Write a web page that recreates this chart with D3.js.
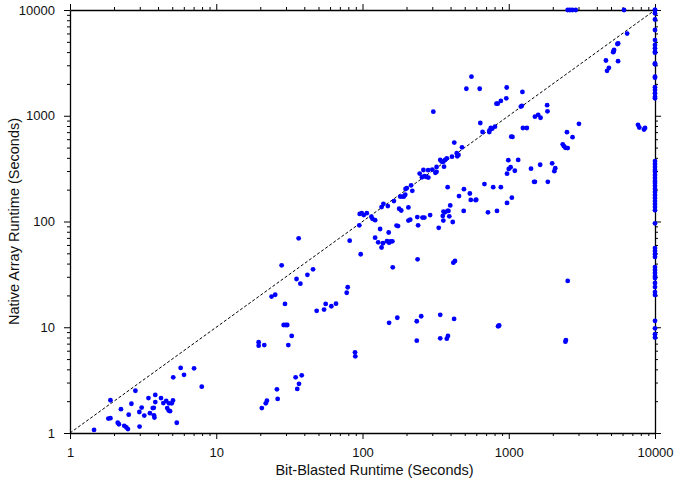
<!DOCTYPE html>
<html lang="en">
<head>
<meta charset="UTF-8">
<title>Bit-blasted vs native array runtime</title>
<style>
  body { margin: 0; background: #fff; }
  svg { display: block; font-family: "Liberation Sans", Arial, sans-serif; }
</style>
</head>
<body>
<svg id="chart"></svg>
<script src="https://d3js.org/d3.v7.min.js"></script>
<script>
// runtimes in seconds, one entry per benchmark (x = bit-blasted, y = native array)
const bitBlasted = [
  1.46, 1.89, 1.83, 1.89, 2.23, 2.12, 2.16, 2.35, 2.43, 2.49, 2.63, 2.52, 2.80, 2.99, 2.98, 3.09, 3.22, 3.44, 3.52, 3.68,
  3.74, 3.75, 3.78, 3.83, 3.83, 4.19, 4.35, 4.55, 4.62, 4.73, 4.83, 4.75, 4.96, 5.06, 5.37, 5.08, 5.71, 6.02, 7.05, 7.96,
  20.5, 21.8, 22.2, 26.0, 26.3, 34.9, 38.4, 36.8, 35.8,
  28.0, 35.4, 37.6, 42.0, 45.9, 23.9, 25.3, 29.5, 28.9, 29.9, 30.6, 32.8, 31.1, 19.5, 19.5, 21.3, 48.6, 54.6, 56.0, 61.2,
  65.9, 78.0, 79.2, 88.9, 89.3, 36.6,
  97.2, 161, 238, 418, 429, 152, 173, 235, 252, 340, 423, 235, 340, 377, 384, 853, 845, 860, 2530, 2440, 2460,
  81.7, 95.1, 95.7, 98.8, 102, 107, 115, 117, 122, 122, 128, 132, 135, 138, 147, 152, 155, 160, 151, 135,
  139, 149, 164, 171, 175, 178, 184, 181, 187, 192, 196, 197, 201, 206, 206, 212, 215, 219, 237, 240,
  246, 255, 265, 257, 265, 272, 281, 282, 290, 300, 315, 321, 321, 332, 340, 347, 357, 367, 377, 361,
  358, 366, 354, 357, 382, 387, 392, 398, 414, 382, 457, 409, 424, 441, 453, 445, 479, 494, 492, 542,
  550, 594, 599, 305, 261,
  556, 513, 633, 968, 1240, 962, 824, 840, 883, 1210, 1230, 1830, 1840, 1510, 1590, 1650, 3020, 2500, 2730, 2340,
  2380, 2440, 2530, 639, 662, 739, 754, 771, 805, 736, 1250, 1330, 1040, 1060, 993, 1160, 1030, 1000, 1100, 973,
  1420, 1640, 1980, 2080, 2050, 1490, 1510, 1850, 682, 783, 883, 1050, 973, 721, 831,
  2530, 2620, 2720, 2870, 6140, 10000, 6450, 5530, 5600, 5250, 5180, 5200, 4620, 5590, 4840, 4700, 7650, 7810, 8410, 8550
];
const nativeArray = [
  1.07, 2.04, 1.37, 1.38, 1.68, 1.25, 1.21, 1.17, 1.13, 1.09, 1.89, 1.49, 2.51, 1.15, 1.58, 1.74, 1.46, 2.14, 1.54, 1.72,
  1.73, 1.47, 1.40, 2.29, 1.96, 2.14, 1.92, 2.01, 1.72, 1.63, 1.61, 1.91, 1.91, 2.03, 1.25, 3.36, 4.12, 3.55, 4.09, 2.74,
  1.72, 1.91, 2.02, 2.59, 2.10, 3.36, 3.51, 2.92, 2.61,
  38.5, 28.6, 25.8, 31.3, 35.3, 19.5, 20.3, 16.6, 10.5, 10.5, 10.5, 8.27, 6.79, 7.21, 6.69, 6.79, 14.3, 14.7, 16.6, 15.8,
  16.7, 21.2, 23.9, 5.79, 5.31, 69.3,
  49.0, 36.9, 43.9, 40.8, 42.3, 11.0, 12.3, 11.4, 12.7, 13.1, 12.0, 7.46, 7.86, 7.80, 8.27, 10.3, 10.2, 10.4, 27.4, 7.30, 7.57,
  65.8, 92.0, 118, 120, 115, 120, 111, 106, 103, 70.3, 63.6, 84.9, 56.8, 62.3, 65.1, 63.0, 64.7, 65.0, 78.7, 137,
  147, 140, 156, 91.6, 90.6, 132, 127, 172, 172, 172, 179, 203, 207, 136, 102, 104, 220, 195, 110, 92.0,
  284, 262, 269, 109, 109, 265, 306, 260, 115, 310, 289, 295, 328, 87.2, 382, 369, 368, 382, 396, 330,
  124, 122, 113, 102, 126, 126, 112, 142, 98.9, 211, 174, 410, 558, 442, 426, 414, 503, 202, 126, 184,
  160, 159, 161, 1092, 307,
  2340, 1800, 1800, 1850, 1680, 1460, 1300, 1300, 1380, 1220, 1240, 1260, 1100, 980, 1020, 957, 839, 699, 627, 537,
  517, 498, 495, 854, 702, 728, 766, 754, 788, 702, 766, 766, 634, 630, 380, 382, 326, 314, 302, 283,
  316, 344, 355, 319, 299, 237, 237, 237, 226, 211, 211, 168, 150, 122, 126,
  10000, 10000, 10000, 10000, 10000, 10000, 5990, 4770, 4820, 4190, 3990, 4050, 3330, 3280, 2840, 2660, 821, 774, 741, 766
];
// native array runtimes for benchmarks where bit-blasting hit the 10000 s limit
const timeoutNative = [
  10000, 9310, 8130, 6470, 5200, 4670, 4340, 4030, 3950, 3130, 3070, 2340, 2290, 1860, 1750, 1630, 1510, 1460,
  373, 350, 328, 307, 294, 275, 258, 242, 231, 217, 203, 190, 178, 167, 156, 146, 137, 128, 96.1,
  56.1, 52.6, 49.3, 46.2, 37.1, 34.8, 32.6, 30.5, 29.2, 26.2, 24.0, 21.5, 20.2, 11.5, 9.77, 8.6, 8.0
];
const decades = [1, 10, 100, 1000, 10000];
const timeLimit = 10000;

const width = 674, height = 485;
const margin = {top: 10, right: 19, bottom: 52, left: 70};

const svg = d3.select("#chart")
  .attr("width", width)
  .attr("height", height)
  .attr("viewBox", [0, 0, width, height]);

const x = d3.scaleLog().domain([1, 10000]).range([margin.left, width - margin.right]);
const y = d3.scaleLog().domain([1, 10000]).range([height - margin.bottom, margin.top]);

// minor ticks 2..9 within each decade
const minor = [];
decades.slice(0, -1).forEach(d => { for (let k = 2; k < 10; k++) minor.push(d * k); });

function frame(axis, transform, labels) {
  const g = svg.append("g").attr("transform", transform);
  g.call(axis.tickValues(minor).tickSize(3).tickFormat("").tickSizeOuter(0));
  g.selectAll("text").remove();
  const g2 = svg.append("g").attr("transform", transform);
  g2.call(axis.tickValues(decades).tickSize(6).tickSizeOuter(0)
    .tickFormat(labels ? d3.format("d") : ""));
  g2.selectAll(".domain").remove();
  if (!labels) g2.selectAll("text").remove();
  svg.selectAll(".domain").attr("stroke", "#000").attr("stroke-width", 1.3);
  svg.selectAll(".tick line").attr("stroke", "#000").attr("stroke-width", 1);
  return g2;
}

frame(d3.axisBottom(x).tickPadding(9), `translate(0,${height - margin.bottom})`, true);
frame(d3.axisLeft(y).tickPadding(9), `translate(${margin.left},0)`, true);
frame(d3.axisTop(x), `translate(0,${margin.top})`, false);
frame(d3.axisRight(y), `translate(${width - margin.right},0)`, false);

svg.selectAll("text").attr("font-size", 13).attr("fill", "#111")
  .attr("font-family", "'Liberation Sans', Arial, sans-serif");

// y = x reference line
svg.append("line")
  .attr("x1", x(1)).attr("y1", y(1))
  .attr("x2", x(10000)).attr("y2", y(10000))
  .attr("stroke", "#000")
  .attr("stroke-width", 1)
  .attr("stroke-dasharray", "3,2");

const points = bitBlasted.map((b, i) => [b, nativeArray[i]])
  .concat(timeoutNative.map(n => [timeLimit, n]));

svg.append("g")
  .attr("fill", "#0000ff")
  .selectAll("circle")
  .data(points)
  .join("circle")
  .attr("cx", d => x(d[0]))
  .attr("cy", d => y(d[1]))
  .attr("r", 2.4);

svg.append("text")
  .attr("x", (x(1) + x(10000)) / 2 + 12)
  .attr("y", 475)
  .attr("text-anchor", "middle")
  .attr("font-size", 14.5)
  .attr("fill", "#111")
  .text("Bit-Blasted Runtime (Seconds)");

svg.append("text")
  .attr("transform", `translate(19,${(y(1) + y(10000)) / 2}) rotate(-90)`)
  .attr("text-anchor", "middle")
  .attr("font-size", 14.5)
  .attr("fill", "#111")
  .text("Native Array Runtime (Seconds)");
</script>
</body>
</html>
